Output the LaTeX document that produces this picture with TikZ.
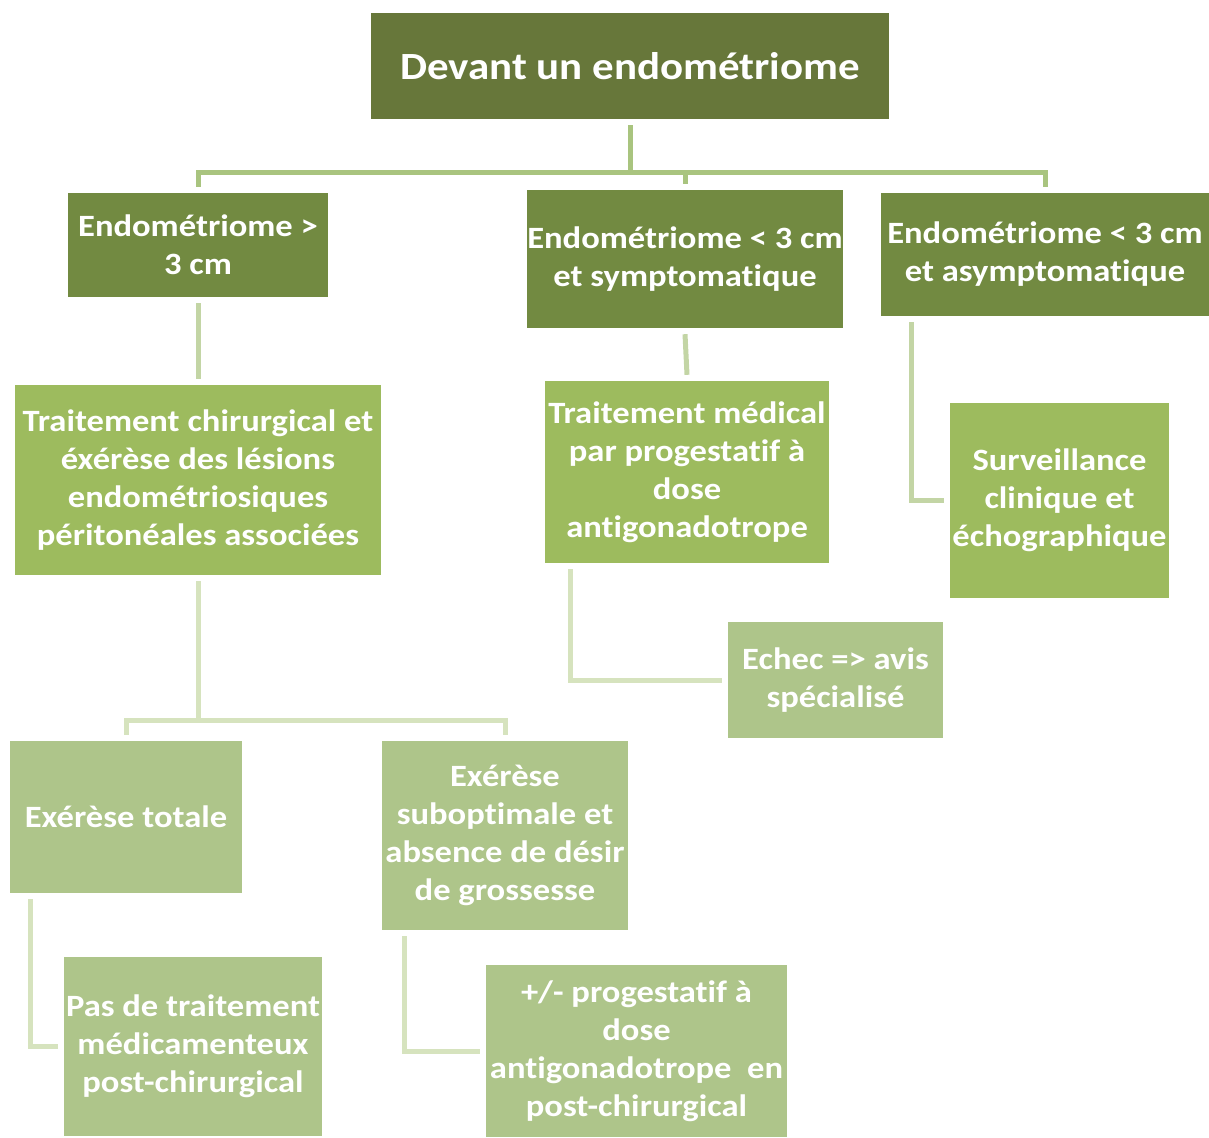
\documentclass[tikz,border=0pt]{standalone}
\usepackage{fontspec}
\setmainfont[Ligatures=NoCommon, FakeStretch=1.115]{Carlito}
\definecolor{cTop}{HTML}{67773A}
\definecolor{cOne}{HTML}{728A41}
\definecolor{cTwo}{HTML}{9DBB5E}
\definecolor{cThree}{HTML}{AEC58A}
\definecolor{lnA}{HTML}{A9C47F}
\definecolor{lnB}{HTML}{C3D5A5}
\definecolor{lnC}{HTML}{D6E3BE}
\tikzset{
  box/.style={rectangle, inner sep=0pt, align=center, text=white,
    font=\bfseries\fontsize{31}{38}\selectfont},
  conA/.style={draw=lnA, line width=5pt},
  conB/.style={draw=lnB, line width=5pt},
  conC/.style={draw=lnC, line width=5pt}
}
\begin{document}
\begin{tikzpicture}[x=1pt,y=-1pt]
\useasboundingbox (0,0) rectangle (1209,1137);
\node[box, fill=cTop, minimum width=518pt, minimum height=106pt,
      font=\bfseries\fontsize{38.5}{46}\selectfont] (top) at (630,66) {Devant un endométriome};
\node[box, fill=cOne, minimum width=260pt, minimum height=104pt] (L1a) at (198,245) {Endométriome >\\3 cm};
\node[box, fill=cOne, minimum width=314pt, minimum height=138pt] (L1b) at (685,259) {Endométriome < 3 cm\\et symptomatique};
\node[box, fill=cOne, minimum width=328pt, minimum height=123pt] (L1c) at (1045,254.5) {Endométriome < 3 cm\\et asymptomatique};
\node[box, fill=cTwo, minimum width=366pt, minimum height=190pt] (L2a) at (198,480) {Traitement chirurgical et\\éxérèse des lésions\\endométriosiques\\péritonéales associées};
\node[box, fill=cTwo, minimum width=284pt, minimum height=182pt] (L2b) at (687,472) {Traitement médical\\par progestatif à\\dose\\antigonadotrope};
\node[box, fill=cTwo, minimum width=219pt, minimum height=195pt] (L2c) at (1059.5,500.5) {Surveillance\\clinique et\\échographique};
\node[box, fill=cThree, minimum width=215pt, minimum height=116pt] (echec) at (835.5,680) {Echec => avis\\spécialisé};
\node[box, fill=cThree, minimum width=232pt, minimum height=152pt] (ex1) at (126,817) {Exérèse totale};
\node[box, fill=cThree, minimum width=246pt, minimum height=189pt] (ex2) at (505,835.5) {Exérèse\\suboptimale et\\absence de désir\\de grossesse};
\node[box, fill=cThree, minimum width=258pt, minimum height=179pt] (pas) at (193,1046.5) {Pas de traitement\\médicamenteux\\post-chirurgical};
\node[box, fill=cThree, minimum width=301pt, minimum height=172pt] (pm) at (636.5,1051) {+/- progestatif à\\dose\\antigonadotrope~~en\\post-chirurgical};
\coordinate (bus) at (630,172);
\coordinate (bustwo) at (199,720);
\draw[conA] ([yshift=-6pt]top.south) -- (top.south |- bus);
\draw[conA] ([yshift=6pt]L1a.north) -- (L1a.north |- bus) -- (L1c.north |- bus) -- ([yshift=6pt]L1c.north);
\draw[conA] ([yshift=6pt]L1b.north) -- (L1b.north |- bus);
\draw[conB] ([yshift=-6pt]L1a.south) -- ([yshift=6pt]L2a.north);
\draw[conB] ([yshift=-6pt]L1b.south) -- ([yshift=6pt]L2b.north);
\draw[conB] ([xshift=31pt,yshift=-6pt]L1c.south west) |- ([xshift=-6pt]L2c.west);
\draw[conC] ([xshift=26pt,yshift=-6pt]L2b.south west) |- ([xshift=-6pt]echec.west);
\draw[conC] ([yshift=-6pt]L2a.south) -- (L2a.south |- bustwo);
\draw[conC] ([yshift=6pt]ex1.north) -- (ex1.north |- bustwo) -- (ex2.north |- bustwo) -- ([yshift=6pt]ex2.north);
\draw[conC] ([xshift=21pt,yshift=-6pt]ex1.south west) |- ([xshift=-6pt]pas.west);
\draw[conC] ([xshift=23pt,yshift=-6pt]ex2.south west) |- ([xshift=-6pt]pm.west);
\end{tikzpicture}
\end{document}
